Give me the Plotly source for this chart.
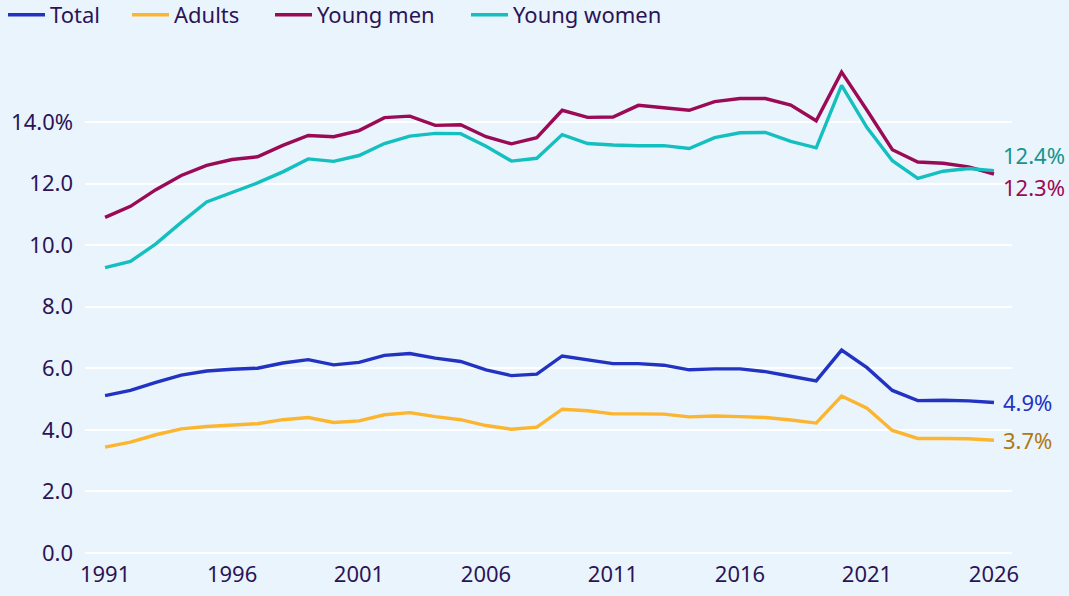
import plotly.graph_objects as go

years = list(range(1991, 2027))

total = [5.11, 5.28, 5.54, 5.78, 5.91, 5.97, 6.00, 6.17, 6.28, 6.11, 6.19, 6.42, 6.48, 6.33, 6.22,
         5.95, 5.76, 5.81, 6.40, 6.27, 6.15, 6.15, 6.10, 5.95, 5.98, 5.98, 5.89, 5.74, 5.59, 6.59,
         6.02, 5.28, 4.95, 4.96, 4.94, 4.89]
adults = [3.44, 3.60, 3.84, 4.03, 4.11, 4.16, 4.20, 4.33, 4.40, 4.24, 4.29, 4.49, 4.56, 4.43, 4.33,
          4.14, 4.02, 4.09, 4.67, 4.62, 4.52, 4.52, 4.51, 4.42, 4.45, 4.43, 4.40, 4.32, 4.22, 5.10,
          4.70, 3.98, 3.72, 3.72, 3.71, 3.66]
young_men = [10.90, 11.26, 11.80, 12.26, 12.59, 12.78, 12.87, 13.24, 13.56, 13.52, 13.72, 14.14,
             14.19, 13.89, 13.91, 13.52, 13.29, 13.49, 14.38, 14.15, 14.16, 14.54, 14.46, 14.38,
             14.66, 14.76, 14.76, 14.55, 14.04, 15.62, 14.38, 13.10, 12.70, 12.66, 12.54, 12.31]
young_women = [9.27, 9.47, 10.04, 10.74, 11.40, 11.70, 12.02, 12.38, 12.80, 12.72, 12.91, 13.30,
               13.54, 13.63, 13.62, 13.21, 12.73, 12.82, 13.59, 13.30, 13.25, 13.23, 13.23, 13.14,
               13.49, 13.65, 13.66, 13.37, 13.16, 15.19, 13.82, 12.74, 12.17, 12.40, 12.49, 12.42]

series_names = ["Total", "Adults", "Young men", "Young women"]
series_values = [total, adults, young_men, young_women]
line_colors = ["#2233c2", "#fbb52f", "#9a0a56", "#14bfbf"]
label_colors = ["#2233c2", "#b07812", "#9a0a56", "#15948f"]
end_labels = ["4.9%", "3.7%", "12.3%", "12.4%"]
label_yshift = [0, 0, -13, 16]
legend_ids = ["legend", "legend2", "legend3", "legend4"]
legend_x_px = [3, 127, 270, 466]

y_tickvals = [0, 2, 4, 6, 8, 10, 12, 14]
y_ticktext = ["0.0", "2.0", "4.0", "6.0", "8.0", "10.0", "12.0", "14.0%"]
x_tickvals = [1991, 1996, 2001, 2006, 2011, 2016, 2021, 2026]

text_color = "#2b1456"
bg = "#eaf4fd"
font_family = "Noto Sans, Open Sans, sans-serif"
W, H = 1069, 596

fig = go.Figure()
for name, vals, col, lg in zip(series_names, series_values, line_colors, legend_ids):
    fig.add_trace(go.Scatter(x=years, y=vals, mode="lines", name=name, legend=lg,
                             line=dict(color=col, width=3.4), hoverinfo="x+y"))

for vals, lab, col, ys in zip(series_values, end_labels, label_colors, label_yshift):
    fig.add_annotation(x=years[-1], y=vals[-1], text=lab, showarrow=False,
                       xanchor="left", yanchor="middle", xshift=7, yshift=ys,
                       font=dict(color=col, size=22, family=font_family))

legend_layout = {}
for lg, px in zip(legend_ids, legend_x_px):
    legend_layout[lg] = dict(orientation="h", x=px / W, xref="container", xanchor="left",
                             y=1 - 15 / H, yref="container", yanchor="middle",
                             font=dict(size=22, color=text_color), bgcolor="rgba(0,0,0,0)",
                             itemwidth=37)

fig.update_layout(
    width=W, height=H,
    margin=dict(l=85, r=57, t=45, b=43),
    paper_bgcolor=bg, plot_bgcolor=bg,
    font=dict(family=font_family, color=text_color, size=22),
    showlegend=True,
    xaxis=dict(range=[1990.21, 2026.71], tickvals=x_tickvals, showgrid=False, zeroline=False,
               showline=False, ticks="", tickfont=dict(size=22, color=text_color),
               ticklabelstandoff=6, automargin=False),
    yaxis=dict(range=[0, 16.5], tickvals=y_tickvals, ticktext=y_ticktext, showgrid=True,
               gridcolor="white", gridwidth=2, zeroline=True, zerolinecolor="white",
               zerolinewidth=2, showline=False, ticks="", tickfont=dict(size=22, color=text_color),
               ticklabelstandoff=11, automargin=False),
    **legend_layout,
)

post = "document.body.style.margin='0';document.body.style.background='%s';" % bg
fig.write_html("out.html", post_script=post, config={"displayModeBar": False})
